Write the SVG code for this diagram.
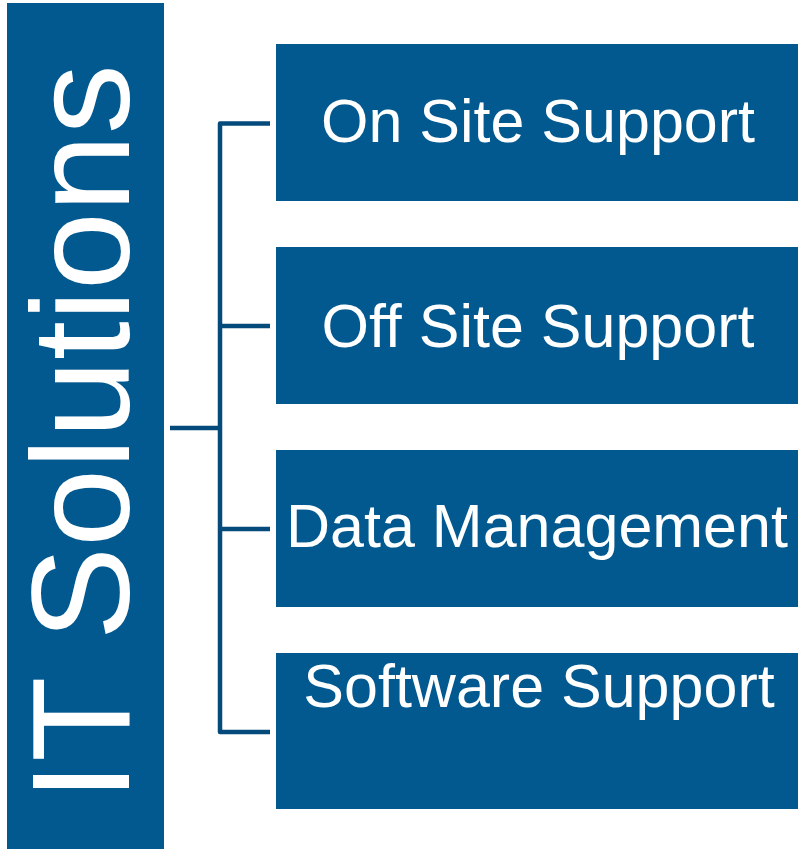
<svg xmlns="http://www.w3.org/2000/svg" width="798" height="849" viewBox="0 0 798 849">
<style>
.box{fill:#02598f}
.lbl{fill:#ffffff;font-family:"Liberation Sans",Arial,sans-serif;font-size:61px;text-anchor:middle}
.conn{stroke:#044a7a;stroke-width:4.5;fill:none;stroke-linejoin:round;stroke-linecap:butt}
</style>
<rect width="798" height="849" fill="#ffffff"/>
<g id="root">
<rect class="box" x="7" y="3" width="157" height="846"/>
<text transform="translate(129,801) rotate(-90)" fill="#ffffff" font-family="'Liberation Sans',Arial,sans-serif" font-size="140">IT Solutions</text>
</g>
<g id="connectors">
<path class="conn" d="M170,428 H220"/>
<path class="conn" d="M270,123.5 H220 V732 H270"/>
<path class="conn" d="M220,326 H270"/>
<path class="conn" d="M220,529 H270"/>
</g>
<g id="n1">
<rect class="box" x="276" y="44" width="522" height="157"/>
<text class="lbl" x="538" y="142">On Site Support</text>
</g>
<g id="n2">
<rect class="box" x="276" y="247" width="522" height="157"/>
<text class="lbl" x="538" y="347">Off Site Support</text>
</g>
<g id="n3">
<rect class="box" x="276" y="450" width="522" height="157"/>
<text class="lbl" x="537" y="547">Data Management</text>
</g>
<g id="n4">
<rect class="box" x="276" y="653" width="522" height="156"/>
<text class="lbl" x="539" y="707">Software Support</text>
</g>
</svg>
